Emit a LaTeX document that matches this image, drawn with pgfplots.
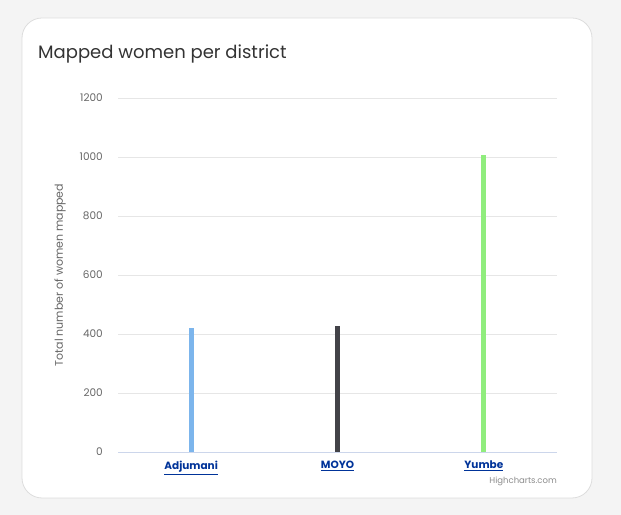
\documentclass[border=0pt]{standalone}
\usepackage{fontspec}
\setmainfont{Poppins}
\usepackage{pgfplots}
\pgfplotsset{compat=1.18}

\definecolor{pagebg}{HTML}{F4F4F4}
\definecolor{cardline}{HTML}{DDDDDD}
\definecolor{gridc}{HTML}{E6E6E6}
\definecolor{axisc}{HTML}{CCD6EB}
\definecolor{labelc}{HTML}{666666}
\definecolor{linkc}{HTML}{003399}
\definecolor{hcblue}{HTML}{7CB5EC}
\definecolor{hcdark}{HTML}{434348}
\definecolor{hcgreen}{HTML}{90ED7D}

\begin{document}
\begin{tikzpicture}[x=1bp,y=1bp]
% page and card
\fill[pagebg] (0,0) rectangle (621,515);
\filldraw[fill=white, draw=cardline, line width=0.8bp, rounded corners=20bp] (22,17) rectangle (592,497);
\node[anchor=base west, inner sep=0pt, text=black!80, font=\fontsize{18bp}{22bp}\selectfont] at (38,456) {Mapped women per district};
\node[anchor=base east, inner sep=0pt, text=black!45, font=\fontsize{8.5bp}{10bp}\selectfont] at (557,31) {Highcharts.com};

\begin{axis}[
    at={(118bp,63bp)}, anchor=south west,
    scale only axis,
    width=439bp, height=354bp,
    xmin=-0.5, xmax=2.5,
    ymin=0, ymax=1200,
    ytick={0,200,400,600,800,1000,1200},
    xtick={0,1,2},
    xticklabels={\underline{Adjumani}, \underline{MOYO}, \underline{Yumbe}},
    axis x line*=bottom,
    axis y line*=left,
    x axis line style={draw=axisc, -},
    y axis line style={draw=none},
    ymajorgrids=true,
    grid style={draw=gridc, line width=0.8bp},
    major tick length=0pt,
    tick style={draw=none},
    /pgf/number format/assume math mode=true,
    /pgf/number format/1000 sep={},
    yticklabel style={font=\fontsize{10.5bp}{12bp}\selectfont, text=labelc, inner sep=0pt, anchor=east, xshift=-15bp},
    xticklabel style={font=\fontsize{10.5bp}{12bp}\selectfont\bfseries, text=linkc, inner sep=0pt, anchor=north, yshift=-9bp},
    ylabel={Total number of women mapped},
    ylabel style={font=\fontsize{11bp}{13bp}\selectfont, text=labelc, at={(axis description cs:-0.132,0.5)}, anchor=center},
    ybar, bar width=5bp, bar shift=0pt,
]
\addplot[fill=hcblue, draw=none] coordinates {(0,420)};
\addplot[fill=hcdark, draw=none] coordinates {(1,427)};
\addplot[fill=hcgreen, draw=none] coordinates {(2,1008)};
\end{axis}
\end{tikzpicture}
\end{document}
